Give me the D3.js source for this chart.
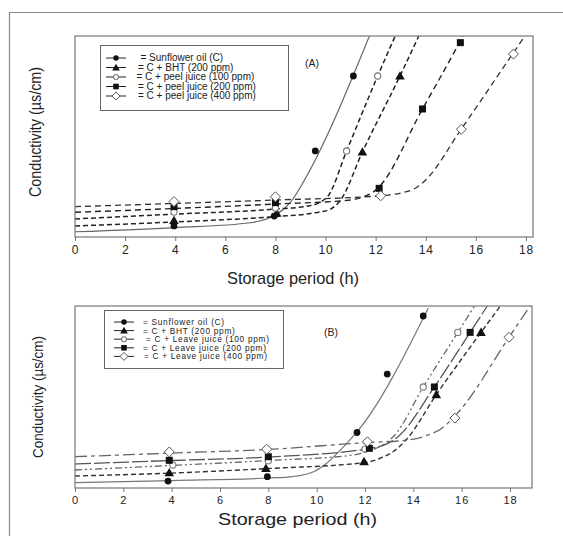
<!DOCTYPE html>
<meta charset="utf-8">
<style>
  body { margin: 0; background: #fff; }
  svg { display: block; }
</style>
<svg width="563" height="536"></svg>
<script src="https://d3js.org/d3.v7.min.js"></script>
<script>

// ticks shared by both panels
var xTicks = [0, 2, 4, 6, 8, 10, 12, 14, 16, 18]

// panel A : peel juice  (y is relative conductivity, 0-100 of axis height)
var namesA = ['= Sunflower oil (C)', '= C + BHT  (200 ppm)', '= C + peel juice (100 ppm)',
              '= C + peel juice (200 ppm)', '= C + peel juice (400 ppm)']
var sunA   = [[3.95, 5.5], [7.95, 10.4], [9.59, 42.8], [11.11, 80.1]]
var bhtA   = [[3.95, 8.2], [8.05, 11.9], [11.47, 42.3], [12.97, 80.1]]
var p100A  = [[3.95, 12.4], [8.0, 14.4], [10.84, 42.8], [12.08, 80.1]]
var p200A  = [[3.95, 15.1], [8.0, 17.1], [12.14, 24.2], [13.87, 63.7], [15.38, 96.7]]
var p400A  = [[3.95, 17.6], [8.0, 20.0], [12.2, 20.5], [15.42, 53.6], [17.5, 91.0]]
// fitted curves
var sunFitA  = [[0, 2.6], [4, 4.7], [7, 7.1], [7.9, 10.4], [8.7, 18.9], [9.0, 24.9], [11.75, 100]]
var bhtFitA  = [[0, 5.5], [4, 7.5], [8, 10.2], [9.5, 11.9], [10.2, 13.9], [10.6, 18.4], [11.47, 42.3], [12.97, 80.1], [13.72, 100]]
var p100FitA = [[0, 9.0], [4, 11.4], [8, 13.9], [9.3, 15.4], [9.8, 17.4], [10.1, 20.4], [10.84, 42.8], [12.08, 80.1], [12.78, 100]]
var p200FitA = [[0, 12.3], [4, 14.2], [8, 16.4], [11, 18.4], [11.6, 20.4], [11.85, 21.9], [12.08, 24.2], [13.87, 63.7], [15.34, 96.7], [15.48, 100]]
var p400FitA = [[0, 15.1], [4, 16.7], [8, 18.4], [12.2, 20.5], [13.0, 21.9], [13.6, 24.4], [14.0, 28.4], [15.39, 53.2], [17.46, 91.0], [17.95, 100]]

// panel B : leave juice
var namesB = ['= Sunflower oil (C)', '= C + BHT (200 ppm)', '= C + Leave juice (100 ppm)',
              '= C + Leave juice (200 ppm)', '= C + Leave juice (400 ppm)']
var sunB   = [[3.85, 3.8], [7.96, 6.2], [11.67, 30.5], [12.92, 62.6], [14.41, 94.5]]
var bhtB   = [[3.9, 8.4], [7.9, 10.8], [11.96, 14.5], [14.95, 51.3], [16.8, 85.5]]
var p100B  = [[4.05, 12.6], [8.0, 15.0], [12.0, 21.4], [14.41, 55.5], [15.84, 85.5]]
var p200B  = [[3.9, 15.2], [8.0, 17.2], [12.18, 21.8], [14.87, 55.5], [16.35, 85.5]]
var p400B  = [[3.9, 19.8], [7.93, 21.3], [12.1, 25.4], [15.72, 38.4], [17.96, 82.8]]
var sunFitB  = [[0, 2.9], [4, 4.1], [8, 5.5], [9, 6.3], [9.9, 9.1], [10.4, 13.5], [11.1, 22.5], [11.67, 30.8], [14.62, 98.9]]
var bhtFitB  = [[0, 6.6], [4, 8.2], [8, 10.7], [12, 14.0], [12.6, 16.2], [13.2, 20.3], [13.7, 26.4], [14.95, 51.3], [16.8, 85.5], [17.6, 100]]
var p100FitB = [[0, 9.9], [4, 12.4], [8, 15.1], [11.5, 18.1], [12.3, 20.9], [12.8, 24.2], [13.2, 28.6], [14.41, 55.5], [15.84, 85.5], [16.53, 100]]
var p200FitB = [[0, 13.2], [4, 15.1], [8, 17.0], [12.18, 21.7], [12.9, 24.2], [13.4, 28.6], [14.87, 55.5], [16.35, 85.5], [17.06, 100]]
var p400FitB = [[0, 17.2], [4, 19.2], [8, 21.2], [12.1, 25.0], [13.6, 26.1], [14.5, 28.6], [15.2, 33.0], [15.8, 40.7], [17.96, 82.8], [18.83, 100]]

var symbols = ['circle', 'triangle', 'ocircle', 'square', 'diamond']

var svg = d3.select('svg')
svg.append('rect').attr('width', 563).attr('height', 536).attr('fill', '#fff')

// outer frame (top + left only)
svg.append('path').attr('d', 'M9.5,536V12.5H563').attr('fill', 'none').attr('stroke', '#8a8a8a').attr('stroke-width', 1.2)

var arial = '"Liberation Sans", Arial, sans-serif'

function drawMarker(g, type, x, y, s) {
  if (type === 'circle') {
    g.append('circle').attr('cx', x).attr('cy', y).attr('r', 3.4 * s).attr('fill', '#111')
  } else if (type === 'ocircle') {
    g.append('circle').attr('cx', x).attr('cy', y).attr('r', 3.1 * s).attr('fill', '#fff').attr('stroke', '#777').attr('stroke-width', 1.1)
  } else if (type === 'triangle') {
    var h = 8 * s
    g.append('path').attr('d', 'M' + x + ',' + (y - h * 0.6) + 'L' + (x + h * 0.6) + ',' + (y + h * 0.45) + 'L' + (x - h * 0.6) + ',' + (y + h * 0.45) + 'Z').attr('fill', '#111')
  } else if (type === 'square') {
    var a = 7 * s
    g.append('rect').attr('x', x - a / 2).attr('y', y - a / 2).attr('width', a).attr('height', a).attr('fill', '#111')
  } else {
    var d = 5 * s
    g.append('path').attr('d', 'M' + x + ',' + (y - d) + 'L' + (x + d) + ',' + y + 'L' + x + ',' + (y + d) + 'L' + (x - d) + ',' + y + 'Z')
      .attr('fill', '#fff').attr('stroke', '#555').attr('stroke-width', 1)
  }
}

function drawPanel(p) {
  var x = d3.scaleLinear().domain([0, p.xmax]).range([p.left, p.left + p.xlen])
  var y = d3.scaleLinear().domain([0, 100]).range([p.bottom, p.top])
  var g = svg.append('g')

  g.append('clipPath').attr('id', p.id).append('rect')
    .attr('x', p.left).attr('y', p.top).attr('width', p.right - p.left).attr('height', p.bottom - p.top)

  // x axis
  var ax = g.append('g').attr('transform', 'translate(0,' + p.bottom + ')')
    .call(d3.axisBottom(x).tickValues(xTicks).tickSize(4).tickPadding(4))
  ax.select('.domain').remove()
  ax.selectAll('line').attr('stroke', '#777')
  ax.selectAll('text').attr('font-family', arial).attr('font-size', p.tickSize).attr('fill', '#222')
    .attr('letter-spacing', p.tickSpace)

  var line = d3.line().x(function (d) { return x(d[0]) }).y(function (d) { return y(d[1]) }).curve(d3.curveMonotoneX)

  var lines = g.append('g').attr('clip-path', 'url(#' + p.id + ')')
  p.fits.forEach(function (f, i) {
    lines.append('path').attr('d', line(f)).attr('fill', 'none')
      .attr('stroke', p.lineColors[i]).attr('stroke-width', p.lineWidth[i])
      .attr('stroke-dasharray', p.dashes[i])
  })

  var mk = g.append('g')
  p.points.forEach(function (pts, i) {
    pts.forEach(function (d) { drawMarker(mk, symbols[i], x(d[0]), y(d[1]), 1) })
  })

  // plot frame
  g.append('rect').attr('x', p.left).attr('y', p.top).attr('width', p.right - p.left).attr('height', p.bottom - p.top)
    .attr('fill', 'none').attr('stroke', '#777').attr('stroke-width', 1.2)

  // legend
  var lg = g.append('g')
  lg.append('rect').attr('x', p.leg[0]).attr('y', p.leg[1]).attr('width', p.leg[2]).attr('height', p.leg[3])
    .attr('fill', '#fff').attr('stroke', '#666').attr('stroke-width', 1)
  p.names.forEach(function (n, i) {
    var yy = p.legRows[i]
    lg.append('line').attr('x1', p.legSym - 10).attr('x2', p.legSym + 10).attr('y1', yy).attr('y2', yy)
      .attr('stroke', '#222').attr('stroke-width', 1)
    drawMarker(lg, symbols[i], p.legSym, yy, 0.8)
    lg.append('text').attr('x', p.legText[i]).attr('y', yy + 3).text(n)
      .attr('font-family', arial).attr('font-size', p.legFont).attr('letter-spacing', p.legSpace).attr('fill', '#222')
  })

  g.append('text').attr('x', p.tag[0]).attr('y', p.tag[1]).text(p.tag[2])
    .attr('font-family', arial).attr('font-size', 10.5).attr('fill', '#222')

  g.append('text').attr('x', p.xTitle[0]).attr('y', p.xTitle[1])
    .attr('textLength', p.xTitle[2]).attr('lengthAdjust', 'spacingAndGlyphs')
    .text('Storage period (h)').attr('font-family', arial).attr('font-size', p.xTitleSize).attr('fill', '#222')

  g.append('text').attr('transform', 'translate(' + p.yTitle[0] + ',' + p.yTitle[1] + ') rotate(-90)')
    .attr('x', -p.yTitle[2] / 2).attr('dy', '0.35em')
    .attr('textLength', p.yTitle[2]).attr('lengthAdjust', 'spacingAndGlyphs')
    .text('Conductivity (µs/cm)').attr('font-family', arial).attr('font-size', p.yTitleSize).attr('fill', '#222')
}

drawPanel({
  id: 'clipA', left: 75, right: 533, top: 36, bottom: 237, xmax: 18, xlen: 451,
  tickSize: 12, tickSpace: 0.8,
  fits: [sunFitA, bhtFitA, p100FitA, p200FitA, p400FitA],
  points: [sunA, bhtA, p100A, p200A, p400A],
  lineColors: ['#666', '#222', '#222', '#222', '#333'],
  lineWidth: [1.2, 1.5, 1.5, 1.4, 1.3],
  dashes: [null, '5,3', '5,3', '6,4', '6,4'],
  names: namesA, leg: [100.5, 45.5, 188, 65], legRows: [58, 67.5, 77, 86.5, 96], legSym: 116,
  legText: [140.5, 138, 136.5, 138, 138], legFont: 10, legSpace: 0,
  tag: [305, 67, '(A)'],
  xTitle: [227, 284, 132], xTitleSize: 17,
  yTitle: [35, 132, 130], yTitleSize: 16
})

drawPanel({
  id: 'clipB', left: 75, right: 532, top: 306, bottom: 488, xmax: 18, xlen: 435,
  tickSize: 11, tickSpace: 1,
  fits: [sunFitB, bhtFitB, p100FitB, p200FitB, p400FitB],
  points: [sunB, bhtB, p100B, p200B, p400B],
  lineColors: ['#777', '#333', '#666', '#555', '#666'],
  lineWidth: [1.2, 1.4, 1.3, 1.3, 1.3],
  dashes: [null, '5,3', '7,3,2,3,2,3', '16,3', '12,4,4,4'],
  names: namesB, leg: [104.5, 310.5, 179, 58], legRows: [322, 330.6, 339.2, 347.8, 356.4], legSym: 124,
  legText: [143, 143, 146, 143, 144], legFont: 8.3, legSpace: 0.7,
  tag: [324, 336, '(B)'],
  xTitle: [218, 525, 159], xTitleSize: 17,
  yTitle: [38, 397, 122], yTitleSize: 15
})
</script>
